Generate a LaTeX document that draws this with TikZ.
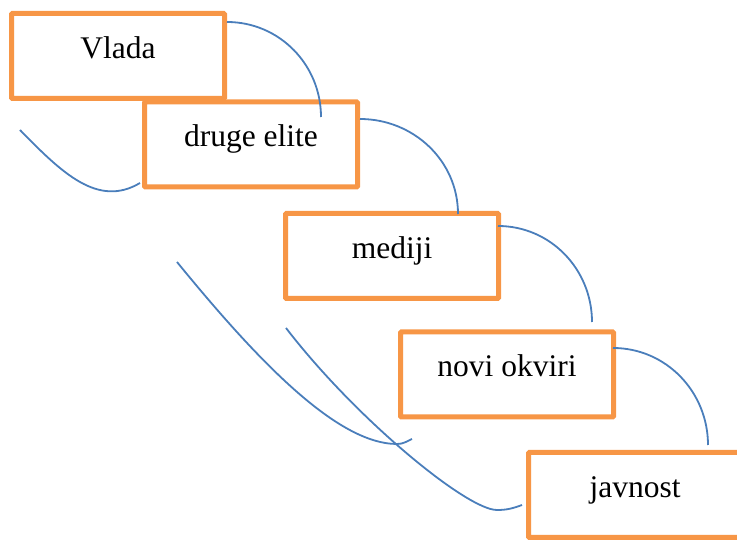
\documentclass[tikz,border=0pt]{standalone}
\usepackage{fontspec}
\setmainfont{Liberation Serif}
\usepackage{xcolor}
\usepackage{tikz}
\usetikzlibrary{positioning,calc}

\definecolor{stageorange}{HTML}{F79646}
\definecolor{linkblue}{HTML}{4A7EBB}

\begin{document}
\begin{tikzpicture}[x=1pt, y=1pt,
  stage/.style={draw=stageorange, line width=5pt, fill=white, rounded corners=1pt,
    minimum width=213pt, minimum height=85pt, inner sep=0pt,
    text height=15pt, text depth=10pt, font=\fontsize{31.5}{36}\selectfont},
  link/.style={linkblue, line width=1.8pt}]

% Page
\useasboundingbox (0,0) rectangle (737,541);
\clip (0,0) rectangle (737,541);

% Stages stepping down
\node[stage] (vlada) at (118,485) {Vlada};
\node[stage] (elite) at (251,396.5) {druge elite};
\node[stage] (mediji) at (392,285) {mediji};
\node[stage] (okviri) at (507,166.5) {novi okviri};
\node[stage] (javnost) at (635,46) {javnost};

% Arcs between neighbouring stages
\draw[link] ([yshift=-11pt]vlada.north east) to[out=0,in=90] ([xshift=70pt,yshift=-17.5pt]elite.north);
\draw[link] ([yshift=-19.5pt]elite.north east) to[out=0,in=90] ([xshift=66pt,yshift=-3pt]mediji.north);
\draw[link] ([xshift=-3pt,yshift=-15pt]mediji.north east) to[out=0,in=90] ([xshift=85pt,yshift=7.5pt]okviri.north);
\draw[link] ([xshift=-3pt,yshift=-18.5pt]okviri.north east) to[out=0,in=90] ([xshift=73pt,yshift=5pt]javnost.north);

% Loose tails on the left
\coordinate (tailA) at (20,411);
\coordinate (tailB) at (177,279);
\coordinate (tailC) at (286,213);
\draw[link] (tailA) .. controls (62,368) and (98,333) .. ([xshift=-2pt,yshift=6.5pt]elite.south west);
\draw[link] (tailB) .. controls (257,181) and (337,97) .. (397,97)
  to[out=0,in=205] ([xshift=14pt,yshift=-19.5pt]okviri.south west);
\draw[link] (tailC) .. controls (356,122) and (467,31) .. (497,31)
  to[out=0,in=200] ([xshift=-4pt,yshift=-10pt]javnost.west);

\end{tikzpicture}
\end{document}
